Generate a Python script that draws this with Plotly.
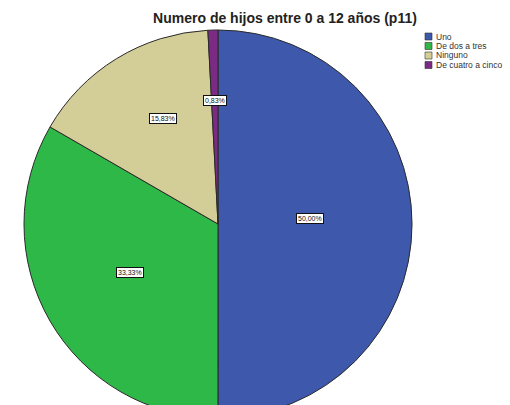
import math
import plotly.graph_objects as go

# Number of children aged 0-12 (p11), share of respondents
categories = ["Uno", "De dos a tres", "Ninguno", "De cuatro a cinco"]
percentages = [50.00, 33.33, 15.83, 0.83]
colors = ["#3E58AC", "#2EB848", "#D3CE97", "#7B2B84"]

W, H = 510, 420
cx_px, cy_px, r_px = 218, 224, 194
FONT = "Liberation Sans, Arial"

fig = go.Figure(
    go.Pie(
        labels=categories,
        values=percentages,
        sort=False,
        direction="clockwise",
        rotation=0,
        textinfo="none",
        hoverinfo="label+percent",
        showlegend=False,
        marker=dict(colors=colors, line=dict(color="#2a2a2a", width=1)),
        domain=dict(
            x=[(cx_px - r_px) / W, (cx_px + r_px) / W],
            y=[1 - (cy_px + r_px) / H, 1 - (cy_px - r_px) / H],
        ),
    )
)

# Percentage labels in boxed annotations, placed at each slice's mid angle
label_radius = [0.45, 0.575, 0.645, 0.645]
label_rx, label_ry = 204, 190
label_cy = 218
total = sum(percentages)
cum = 0.0
annotations = []
for pct, rf in zip(percentages, label_radius):
    mid = (cum + pct / 2) / total * 2 * math.pi
    cum += pct
    x_px = cx_px + rf * label_rx * math.sin(mid)
    y_px = label_cy - rf * label_ry * math.cos(mid)
    annotations.append(
        dict(
            x=x_px / W, y=1 - y_px / H, xref="paper", yref="paper",
            text=f"{pct:.2f}%".replace(".", ","),
            showarrow=False,
            font=dict(family=FONT, size=7, color="#111"),
            bgcolor="white", bordercolor="#111", borderwidth=1, borderpad=1,
        )
    )

# Compact legend: small swatches with labels in the top-right corner
shapes = []
leg_x, leg_y, leg_step, sw = 425, 33, 9.5, 7
for i, (name, col) in enumerate(zip(categories, colors)):
    top = leg_y + i * leg_step
    shapes.append(
        dict(
            type="rect", xref="paper", yref="paper",
            x0=leg_x / W, x1=(leg_x + sw) / W,
            y0=1 - (top + sw) / H, y1=1 - top / H,
            fillcolor=col, line=dict(color="#333", width=0.6),
        )
    )
    annotations.append(
        dict(
            x=(leg_x + sw + 2) / W, y=1 - (top + sw / 2) / H,
            xref="paper", yref="paper", xanchor="left", yanchor="middle",
            text=name, showarrow=False,
            font=dict(family=FONT, size=8.5, color="#333"),
        )
    )

fig.update_layout(
    width=W, height=H,
    margin=dict(l=0, r=0, t=0, b=0),
    paper_bgcolor="white",
    plot_bgcolor="white",
    showlegend=False,
    title=dict(
        text="<b>Numero de hijos entre 0 a 12 años (p11)</b>",
        x=285 / W, xanchor="center",
        y=1 - 18 / H, yanchor="middle",
        font=dict(family=FONT, size=14, color="#222"),
    ),
    shapes=shapes,
    annotations=annotations,
)

fig.write_html(
    "out.html",
    post_script="document.documentElement.style.overflow='hidden';document.body.style.overflow='hidden';",
)
